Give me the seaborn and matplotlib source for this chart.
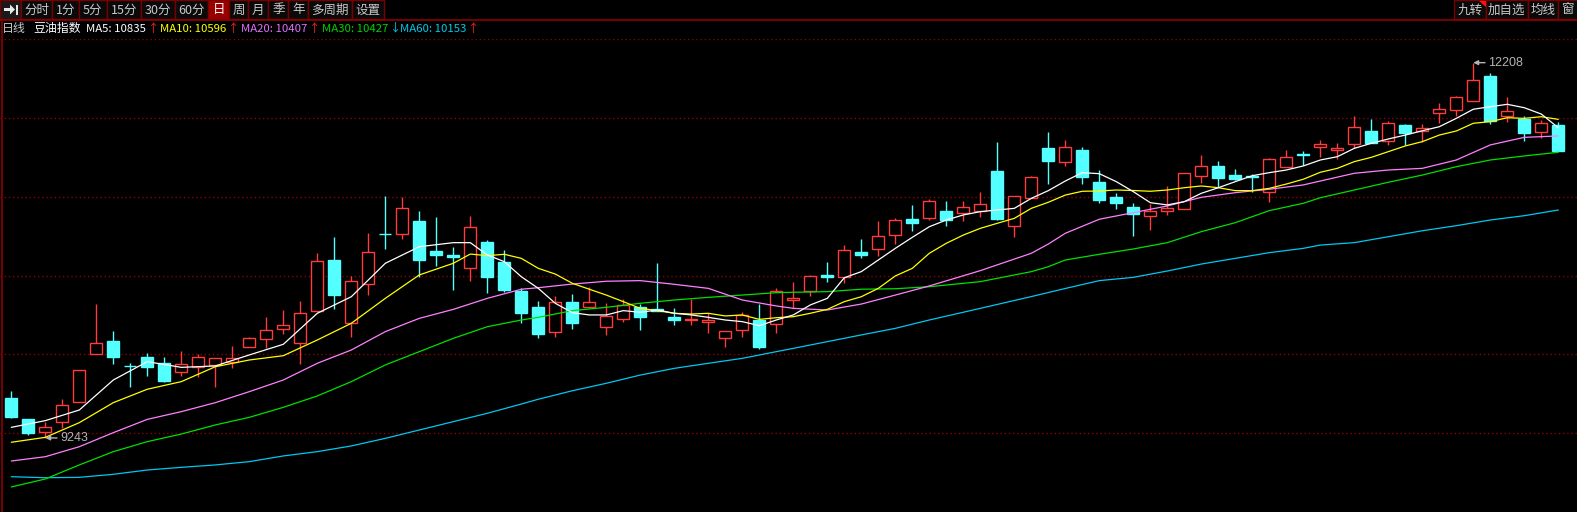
import numpy as np
import pandas as pd
import matplotlib
matplotlib.use('Agg')
import matplotlib.pyplot as plt
import seaborn as sns
from matplotlib.patches import Rectangle, Polygon

# 豆油指数 日线 K线
opens = [9556, 9390, 9293, 9367, 9525, 9904, 10009, 9815, 9880, 9833,
         9767, 9806, 9817, 9846, 9964, 10023, 10102, 9991, 10249, 10649,
         10149, 10457, 10856, 10852, 10957, 10720, 10689, 10588, 10791, 10633,
         10404, 10278, 10078, 10317, 10280, 10122, 10185, 10278, 10262, 10199,
         10178, 10162, 10030, 10094, 10175, 10141, 10335, 10404, 10533, 10512,
         10712, 10734, 10844, 10973, 10983, 11036, 11018, 11039, 11352, 10920,
         11141, 11534, 11421, 11518, 11265, 11147, 11068, 10999, 11034, 11050,
         11315, 11392, 11320, 11312, 11189, 11381, 11486, 11539, 11516, 11563,
         11668, 11587, 11715, 11670, 11808, 11836, 11903, 12103, 11789, 11763,
         11663, 11713]
highs = [9614, 9390, 9367, 9551, 9778, 10301, 10088, 9838, 9917, 9883,
         9930, 9906, 9872, 9970, 10043, 10201, 10254, 10325, 10707, 10828,
         10523, 10860, 11155, 11149, 11036, 10991, 10749, 10997, 10807, 10728,
         10425, 10325, 10365, 10380, 10433, 10307, 10343, 10301, 10625, 10270,
         10341, 10228, 10088, 10238, 10299, 10425, 10473, 10531, 10633, 10767,
         10815, 10957, 10981, 11086, 11133, 11115, 11115, 11186, 11581, 11152,
         11313, 11660, 11597, 11542, 11360, 11178, 11099, 11091, 11234, 11334,
         11478, 11431, 11365, 11326, 11457, 11518, 11510, 11597, 11576, 11784,
         11763, 11747, 11723, 11721, 11889, 11945, 12208, 12124, 11934, 11784,
         11755, 11739]
lows = [9400, 9266, 9243, 9324, 9525, 9904, 9825, 9648, 9735, 9688,
        9735, 9727, 9648, 9798, 9964, 9951, 10064, 9825, 10249, 10260,
        10043, 10372, 10734, 10815, 10517, 10602, 10412, 10486, 10386, 10396,
        10149, 10035, 10043, 10106, 10270, 10059, 10162, 10096, 10248, 10135,
        10135, 10075, 9964, 10038, 9948, 10070, 10267, 10365, 10478, 10465,
        10667, 10681, 10775, 10878, 10965, 10920, 10960, 10991, 10965, 10833,
        11141, 11252, 11394, 11252, 11102, 11055, 10841, 10888, 11004, 11050,
        11260, 11226, 11281, 11184, 11110, 11381, 11397, 11460, 11444, 11531,
        11576, 11560, 11557, 11584, 11734, 11784, 11903, 11721, 11737, 11592,
        11615, 11512]
closes = [9406, 9285, 9332, 9501, 9778, 9991, 9885, 9810, 9806, 9696,
          9825, 9880, 9872, 9872, 10030, 10094, 10135, 10228, 10641, 10375,
          10483, 10710, 10852, 11057, 10649, 10691, 10673, 10907, 10517, 10412,
          10233, 10067, 10315, 10154, 10315, 10207, 10294, 10201, 10248, 10178,
          10182, 10175, 10088, 10212, 9964, 10404, 10351, 10523, 10517, 10728,
          10691, 10836, 10965, 10944, 11115, 10965, 11065, 11089, 10973, 11152,
          11302, 11434, 11539, 11302, 11125, 11102, 11015, 11034, 11060, 11334,
          11389, 11299, 11291, 11308, 11444, 11460, 11482, 11563, 11531, 11702,
          11576, 11729, 11650, 11694, 11840, 11934, 12069, 11749, 11824, 11655,
          11729, 11512]

# moving averages, read at sampled bars
ma_fast_idx = list(range(0, 27, 2)) + list(range(27, 92))
ma5 = [9327, 9380, 9464, 9701, 9846, 9801, 9812, 9899, 9983, 10228, 10359, 10623, 10754, 10786,
       10786, 10689, 10636, 10517, 10425, 10307, 10233, 10215, 10215, 10249,
       10236, 10254, 10228, 10215, 10196, 10175, 10162, 10130, 10175, 10215,
       10294, 10346, 10509, 10557, 10649, 10741, 10828, 10912, 10965, 11005,
       11031, 11044, 11057, 11136, 11197, 11273, 11339, 11331, 11268, 11189,
       11102, 11084, 11110, 11176, 11220, 11268, 11315, 11339, 11360, 11392,
       11439, 11465, 11531, 11571, 11605, 11636, 11670, 11702, 11768, 11840,
       11860, 11879, 11852, 11802, 11694]
ma10 = [9209, 9248, 9364, 9522, 9628, 9688, 9806, 9859, 9893, 10017, 10149, 10346, 10531, 10623,
        10696, 10683, 10694, 10662, 10583, 10538, 10465, 10418, 10372, 10320,
        10267, 10249, 10228, 10222, 10228, 10207, 10215, 10180, 10193, 10201,
        10228, 10259, 10320, 10359, 10425, 10523, 10583, 10702, 10781, 10846,
        10899, 10939, 10978, 11057, 11105, 11162, 11192, 11194, 11202, 11198,
        11192, 11202, 11220, 11234, 11220, 11197, 11197, 11215, 11249, 11287,
        11342, 11373, 11426, 11460, 11505, 11550, 11584, 11636, 11668, 11729,
        11742, 11773, 11768, 11781, 11760]

ma_slow_idx = [0, 2, 4, 6, 8, 10, 12, 14, 16, 18, 20, 22, 24, 26, 28, 30,
               31, 33, 35, 37, 39, 41, 43, 45, 46, 48, 50, 52, 54, 57, 60, 61,
               62, 64, 66, 68, 70, 72, 74, 76, 77, 79, 81, 83, 85, 87, 89, 91]
ma20 = [9061, 9095, 9174, 9285, 9390, 9451, 9522, 9609, 9701, 9833, 9938, 10083, 10188, 10259, 10346, 10418,
        10430, 10459, 10481, 10486, 10457, 10425, 10333, 10286, 10267, 10254, 10301, 10372, 10444, 10565, 10702, 10775,
        10860, 10971, 11023, 11076, 11144, 11181, 11208, 11242, 11273, 11334, 11360, 11373, 11439, 11558, 11618, 11629]
ma30 = [8856, 8919, 9030, 9135, 9214, 9274, 9346, 9406, 9485, 9575, 9688, 9820, 9925, 10030, 10122, 10175,
        10196, 10249, 10275, 10307, 10333, 10354, 10372, 10391, 10394, 10399, 10418, 10422, 10438, 10478, 10557, 10596,
        10649, 10694, 10736, 10786, 10873, 10944, 11039, 11097, 11141, 11202, 11263, 11320, 11386, 11439, 11471, 11500]
ma60 = [8937, 8929, 8932, 8956, 8990, 9011, 9030, 9056, 9101, 9135, 9180, 9240, 9306, 9372, 9438, 9511,
        9549, 9616, 9675, 9740, 9793, 9833, 9872, 9925, 9951, 10004, 10057, 10109, 10175, 10267, 10360, 10392,
        10424, 10486, 10512, 10562, 10617, 10662, 10707, 10741, 10767, 10786, 10833, 10880, 10920, 10965, 10999, 11044]

legend_parts = [('MA5: 10835', '#ffffff', '↑', '#ff2020'),
                ('MA10: 10596', '#ffff00', '↑', '#ff2020'),
                ('MA20: 10407', '#e070ff', '↑', '#ff2020'),
                ('MA30: 10427', '#00d000', '↓', '#00c8e8'),
                ('MA60: 10153', '#00c8e8', '↑', '#ff2020')]
periods = ['分时', '1分', '5分', '15分', '30分', '60分', '日', '周', '月', '季', '年', '多周期', '设置']
right_buttons = ['九转', '加自选', '均线', '窗']

UP = '#ff3c3c'
DOWN = '#54ffff'
GRID = '#8b0000'
ma_colors = {'MA5': '#ffffff', 'MA10': '#ffff00', 'MA20': '#ff80ff', 'MA30': '#00e000', 'MA60': '#00c8f0'}

sns.set_style('dark', rc={'axes.facecolor': 'black', 'figure.facecolor': 'black'})
plt.rcParams['font.family'] = ['Noto Sans CJK SC', 'DejaVu Sans']

W, H = 1577, 512
fig = plt.figure(figsize=(W / 100, H / 100), dpi=100)
fig.patch.set_facecolor('black')

top_px = 39
ax = fig.add_axes([0, 0, 1, (H - top_px) / H])
ax.set_facecolor('black')
x_lo = -11.3 / 17
ax.set_xlim(x_lo, x_lo + W / 17)
y_bot, y_top = 12703 - 7.9 * H, 12703 - 7.9 * top_px
ax.set_ylim(y_bot, y_top)
for yy in np.linspace(y_bot, y_top, 7)[1:]:
    ax.axhline(yy, color=GRID, lw=1.0, ls=(0, (1, 2)), zorder=1)
ax.set_xticks([])
ax.set_yticks([])
for s in ax.spines.values():
    s.set_visible(False)

# candles
o = np.array(opens); c = np.array(closes); h = np.array(highs); l = np.array(lows)
xs = np.arange(len(o))
up = c >= o
body_lo = np.minimum(o, c)
body_hi = np.maximum(o, c)
body_h = np.maximum(body_hi - body_lo, 4)
ax.vlines(xs[up], body_hi[up], h[up], color=UP, lw=1.0, zorder=2)
ax.vlines(xs[up], l[up], body_lo[up], color=UP, lw=1.0, zorder=2)
ax.vlines(xs[~up], l[~up], h[~up], color=DOWN, lw=1.0, zorder=2)
ax.bar(xs[up], body_h[up], bottom=body_lo[up], width=0.72, facecolor='black',
       edgecolor=UP, linewidth=1.0, zorder=3)
ax.bar(xs[~up], body_h[~up], bottom=body_lo[~up], width=0.72, facecolor=DOWN,
       edgecolor=DOWN, linewidth=1.0, zorder=3)

# moving averages
frames = []
for name, idx, vals in [('MA60', ma_slow_idx, ma60), ('MA30', ma_slow_idx, ma30),
                        ('MA20', ma_slow_idx, ma20), ('MA10', ma_fast_idx, ma10),
                        ('MA5', ma_fast_idx, ma5)]:
    frames.append(pd.DataFrame({'bar': idx, 'value': vals, 'ma': name}))
df_ma = pd.concat(frames, ignore_index=True)
sns.lineplot(data=df_ma, x='bar', y='value', hue='ma', palette=ma_colors,
             estimator=None, sort=False, legend=False, linewidth=0.9, ax=ax, zorder=4)
ax.set_xlabel('')
ax.set_ylabel('')

# extreme markers
i_hi = int(np.argmax(h)); i_lo = int(np.argmin(l))
for i, val in [(i_hi, h[i_hi]), (i_lo, l[i_lo])]:
    ax.annotate(f'{int(val)}', xy=(i, val), xytext=(15, 0), textcoords='offset pixels',
                ha='left', va='center', color='#b4b4b4', fontsize=9, family='Liberation Sans',
                arrowprops=dict(arrowstyle='-|>,head_length=0.3,head_width=0.15',
                                color='#b4b4b4', lw=1.0, shrinkA=0, shrinkB=0), zorder=6)

# chrome overlay in pixel coords
ov = fig.add_axes([0, 0, 1, 1], zorder=10)
ov.set_xlim(0, W)
ov.set_ylim(H, 0)
ov.axis('off')
ov.patch.set_alpha(0)

ov.add_patch(Rectangle((0, 0), W, 39, facecolor='black', edgecolor='none'))
ov.plot([0, W], [19.5, 19.5], color='#8b0000', lw=1.2)
ov.plot([1.5, 1.5], [19.5, H], color='#8b0000', lw=1.2)

# icon button
ov.add_patch(Rectangle((0, 0), 20.7, 19, facecolor='#1a1a1a', edgecolor='#7a0000', lw=1))
ov.add_patch(Polygon([(4, 8), (10, 8), (10, 4.5), (15, 9.5), (10, 14.5), (10, 11), (4, 11)],
                     closed=True, facecolor='#e8e8e8', edgecolor='none'))
ov.add_patch(Rectangle((15.5, 4.5), 2, 10, facecolor='#e8e8e8', edgecolor='none'))

edges = [20.7, 52.3, 79, 106.7, 140.7, 175, 208.3, 229, 248.3, 268.3, 288.3, 308.3, 352.3, 384]
for k, lab in enumerate(periods):
    x0, x1 = edges[k], edges[k + 1]
    sel = lab == '日'
    ov.add_patch(Rectangle((x0, 0), x1 - x0, 19, facecolor='#9a0000' if sel else '#0a0a0a',
                           edgecolor='#7a0000', lw=1))
    ov.text((x0 + x1) / 2, 10, lab, ha='center', va='center', fontsize=9,
            color='#ffffff' if sel else '#c8c8c8')

redges = [1454.3, 1485.7, 1528, 1558.3, 1580]
for k, lab in enumerate(right_buttons):
    x0, x1 = redges[k], redges[k + 1]
    ov.add_patch(Rectangle((x0, 0), x1 - x0, 19, facecolor='#0a0a0a', edgecolor='#7a0000', lw=1))
    cx = 1567 if lab == '窗' else (x0 + x1) / 2
    ov.text(cx, 10, lab, ha='center', va='center', fontsize=9, color='#c8c8c8')
ov.add_patch(Polygon([(1479, 0.5), (1485.5, 0.5), (1485.5, 7)], closed=True,
                     facecolor='#ff1010', edgecolor='none'))

# legend row
ov.text(2, 28.5, '日线', ha='left', va='center', fontsize=8.6, color='#c8c8c8')
ov.text(33, 28.5, '豆油指数', ha='left', va='center', fontsize=8.6, color='#ffffff')
label_x = [86, 160, 241, 322, 400]
for (txt, col, arr, acol), lx in zip(legend_parts, label_x):
    t = ov.text(lx, 28.5, txt, ha='left', va='center', fontsize=8.2, color=col)
    ov.annotate(arr, xy=(1, 0.5), xycoords=t, xytext=(1, 0), textcoords='offset pixels',
                ha='left', va='center', fontsize=8.2, color=acol)

fig.savefig('out.png', dpi=100, facecolor='black')
